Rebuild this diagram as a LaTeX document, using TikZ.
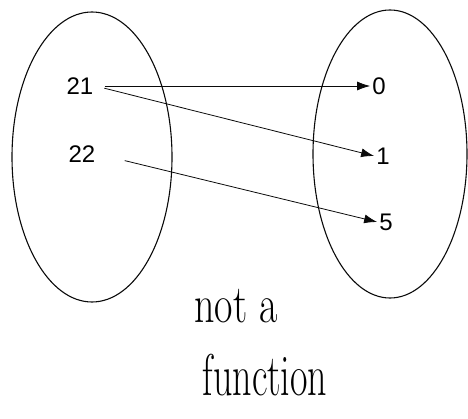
\documentclass[tikz,border=0pt]{standalone}
\usepackage{fontspec}
\usepackage{tikz}
\usetikzlibrary{arrows.meta, positioning}
\newfontfamily\labelfont{Liberation Sans}
\definecolor{inkblack}{RGB}{10, 10, 10}

\begin{document}
\begin{tikzpicture}[x=1pt, y=-1pt, >={Latex[length=13pt, width=9pt]}]
    \useasboundingbox (0,0) rectangle (468,419);

    % the two sets
    \draw[color=inkblack, line width=1.1pt] (92,157) ellipse (80pt and 145pt);
    \draw[color=inkblack, line width=1.1pt] (390,154) ellipse (77pt and 144pt);

    % elements
    \node[font=\labelfont\fontsize{24}{24}\selectfont, inner sep=2pt] (n21) at (80,86) {21};
    \node[font=\labelfont\fontsize{24}{24}\selectfont, inner sep=2pt] (n22) at (82,154) {22};
    \node[font=\labelfont\fontsize{24}{24}\selectfont, inner sep=2pt] (n0) at (379,86) {0};
    \node[font=\labelfont\fontsize{24}{24}\selectfont, inner sep=2pt] (n1) at (383,156) {1};
    \node[font=\labelfont\fontsize{24}{24}\selectfont, inner sep=2pt] (n5) at (386,222) {5};

    % mapping
    \draw[->, line width=0.8pt, color=inkblack, shorten <=9pt] (n21.east) -- (n0.west);
    \draw[->, line width=0.8pt, color=inkblack, shorten <=9pt] (n21.east) -- (n1.west);
    \draw[->, line width=0.8pt, color=inkblack, shorten <=28pt] (n22.east) -- (n5.west);

    \node[font=\fontsize{40}{40}\selectfont, anchor=base] (note1) at (236,323) {\scalebox{1}[1.35]{not a}};
    \node[font=\fontsize{38}{38}\selectfont, anchor=base] (note2) at (265,395) {\scalebox{1}[1.55]{function}};
\end{tikzpicture}
\end{document}
